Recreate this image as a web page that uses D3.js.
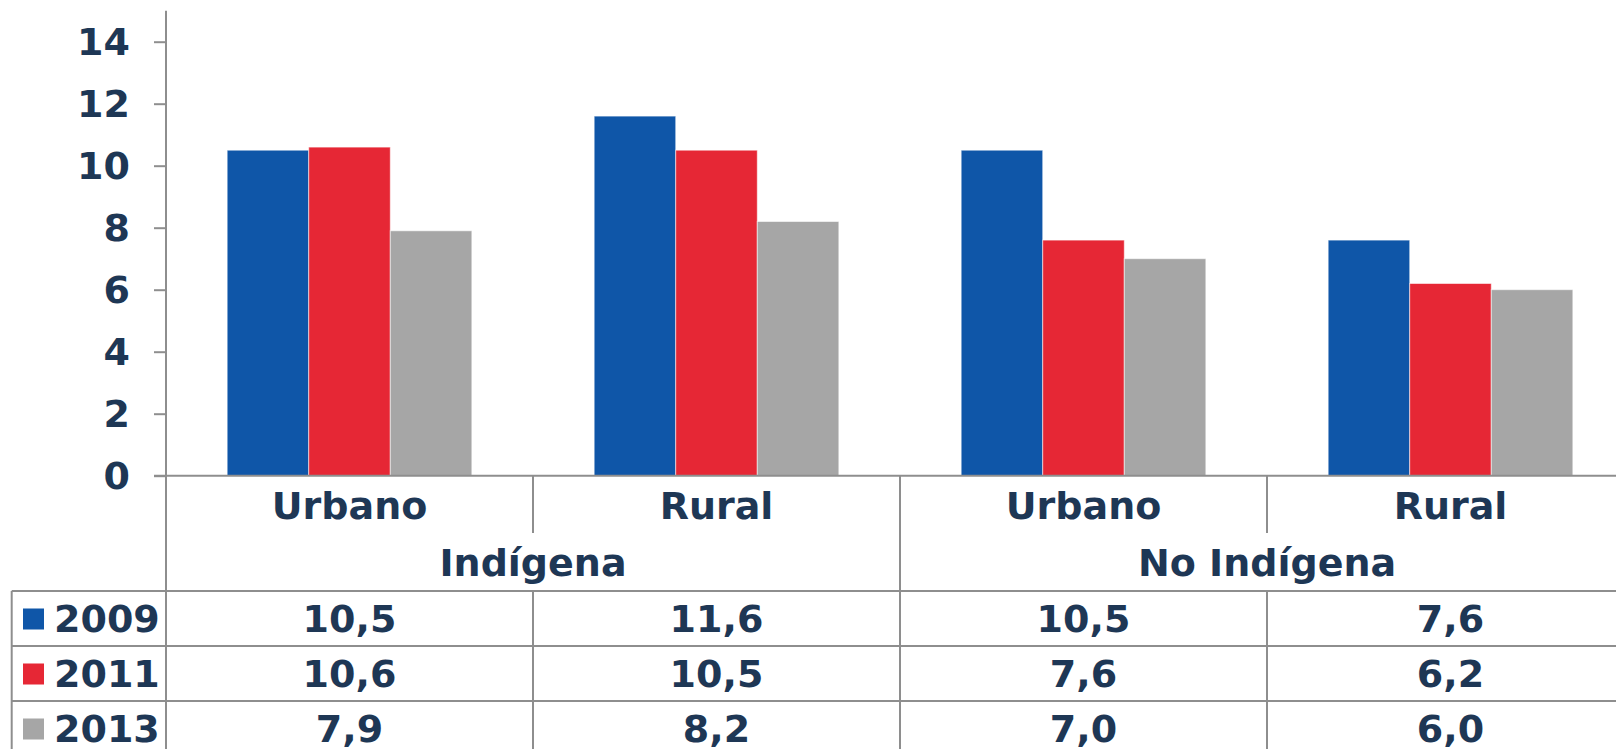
<!DOCTYPE html>
<html>
<head>
<meta charset="utf-8">
<script src="https://cdn.jsdelivr.net/npm/d3@7"></script>
<style>
  html, body { margin: 0; padding: 0; background: #ffffff; overflow: hidden; }
  svg { display: block; }
  text { font-family: "DejaVu Sans", Verdana, sans-serif; font-weight: bold; fill: #1e3755; }
</style>
</head>
<body>
<svg id="chart" width="1616" height="749"></svg>
<script>
// ---- data ----
const groups = ["Indígena", "No Indígena"];
const categories = ["Urbano", "Rural", "Urbano", "Rural"];
const categoryGroup = [0, 0, 1, 1];
const years = ["2009", "2011", "2013"];
const values2009 = [10.5, 11.6, 10.5, 7.6];
const values2011 = [10.6, 10.5, 7.6, 6.2];
const values2013 = [7.9, 8.2, 7.0, 6.0];
const labels2009 = ["10,5", "11,6", "10,5", "7,6"];
const labels2011 = ["10,6", "10,5", "7,6", "6,2"];
const labels2013 = ["7,9", "8,2", "7,0", "6,0"];
const yTicks = [0, 2, 4, 6, 8, 10, 12, 14];
const colors = ["#0f56a8", "#e62735", "#a6a6a6"];

const series = [values2009, values2011, values2013];
const seriesLabels = [labels2009, labels2011, labels2013];

// ---- layout ----
const W = 1616, H = 749;
const left = 166, right = 1634;
const yZero = 475.7, yTop = 10.7;
const lineColor = "#8e8e8e";
const fontSize = 38;
const tableTop = 591, rowH = 55;
const tableLeft = 11.7;
const catRowBottom = 533;

const svg = d3.select("#chart");

const idx = categories.map((c, i) => i);
const x0 = d3.scaleBand().domain(idx).range([left, right]).paddingInner(0).paddingOuter(0);
const bw = x0.bandwidth();
const x1 = d3.scaleBand().domain(years).range([bw / 6, bw * 5 / 6]).padding(0);
const y = d3.scaleLinear().domain([0, 15]).range([yZero, yTop]);

// ---- bars ----
const barData = [];
series.forEach((vals, s) => vals.forEach((v, i) => barData.push({ s, i, v })));
svg.append("g").selectAll("rect").data(barData).join("rect")
  .attr("x", d => x0(d.i) + x1(years[d.s]))
  .attr("y", d => y(d.v))
  .attr("width", x1.bandwidth())
  .attr("height", d => y(0) - y(d.v))
  .attr("fill", d => colors[d.s])
  .attr("stroke", "rgba(255,255,255,0.55)")
  .attr("stroke-width", 1);

// ---- y axis ----
const yAxis = d3.axisLeft(y).tickValues(yTicks).tickSize(12).tickSizeOuter(0).tickPadding(24).tickFormat(d3.format("d"));
const gy = svg.append("g").attr("transform", `translate(${left},0)`).call(yAxis);
gy.select(".domain").remove();
gy.selectAll(".tick line").attr("stroke", lineColor).attr("stroke-width", 2);
gy.selectAll(".tick text")
  .attr("font-size", fontSize)
  .attr("dy", null)
  .attr("dominant-baseline", "central")
  .style("font-family", "'DejaVu Sans', Verdana, sans-serif")
  .style("font-weight", "bold")
  .attr("fill", "#1e3755");

// ---- grid / table lines ----
const lines = svg.append("g").attr("stroke", lineColor).attr("stroke-width", 2);
// vertical axis line continuing through table
lines.append("line").attr("x1", left).attr("x2", left).attr("y1", yTop).attr("y2", H);
// zero line
lines.append("line").attr("x1", left - 12).attr("x2", W).attr("y1", yZero).attr("y2", yZero);
// category separators
idx.slice(1).forEach(i => {
  const xx = x0(i);
  const isGroupBoundary = categoryGroup[i] !== categoryGroup[i - 1];
  lines.append("line").attr("x1", xx).attr("x2", xx).attr("y1", yZero)
    .attr("y2", isGroupBoundary ? H : catRowBottom);
  if (!isGroupBoundary) {
    lines.append("line").attr("x1", xx).attr("x2", xx).attr("y1", tableTop).attr("y2", H);
  }
});
// table horizontal lines
for (let r = 0; r < 3; r++) {
  lines.append("line").attr("x1", tableLeft).attr("x2", W)
    .attr("y1", tableTop + r * rowH).attr("y2", tableTop + r * rowH);
}
lines.append("line").attr("x1", tableLeft).attr("x2", tableLeft).attr("y1", tableTop).attr("y2", H);

// ---- category labels ----
svg.append("g").selectAll("text").data(idx).join("text")
  .attr("x", i => x0(i) + bw / 2)
  .attr("y", 519)
  .attr("text-anchor", "middle")
  .attr("font-size", fontSize)
  .text(i => categories[i]);

// ---- group labels ----
svg.append("g").selectAll("text").data(groups).join("text")
  .attr("x", (g, gi) => {
    const members = idx.filter(i => categoryGroup[i] === gi);
    return (x0(members[0]) + x0(members[members.length - 1]) + bw) / 2;
  })
  .attr("y", 576)
  .attr("text-anchor", "middle")
  .attr("font-size", fontSize)
  .text(g => g);

// ---- data table ----
years.forEach((yr, s) => {
  const rowTop = tableTop + s * rowH;
  svg.append("rect")
    .attr("x", 23).attr("y", rowTop + 17.5)
    .attr("width", 21).attr("height", 21)
    .attr("fill", colors[s]);
  svg.append("text")
    .attr("x", 54).attr("y", rowTop + 41)
    .attr("font-size", fontSize)
    .text(yr);
  svg.append("g").selectAll("text").data(idx).join("text")
    .attr("x", i => x0(i) + bw / 2)
    .attr("y", rowTop + 41)
    .attr("text-anchor", "middle")
    .attr("font-size", fontSize)
    .text(i => seriesLabels[s][i]);
});
</script>
</body>
</html>
